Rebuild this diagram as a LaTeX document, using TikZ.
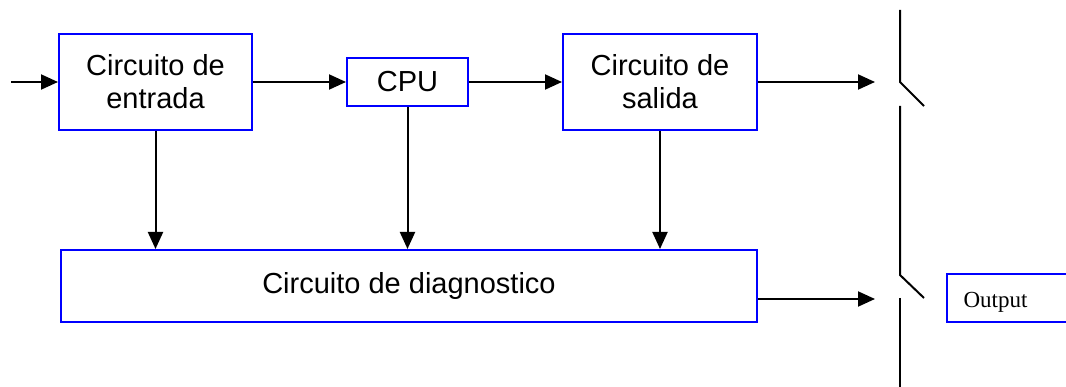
\documentclass[tikz,border=0pt]{standalone}
\usepackage{fontspec}
\setmainfont{Liberation Sans}
\newfontfamily\outfont{Liberation Serif}
\usetikzlibrary{arrows.meta}
\begin{document}
\begin{tikzpicture}[x=1pt,y=-1pt,
  box/.style={draw=blue, line width=2pt, rectangle, inner sep=0pt, align=center,
    font=\fontsize{29}{33}\selectfont},
  arr/.style={line width=2pt, -{Triangle[length=17pt,width=15pt]}},
  wire/.style={line width=2pt}]
\useasboundingbox (0,0) rectangle (1066,387);
\clip (0,0) rectangle (1066,387);
\node[box, minimum width=193pt, minimum height=96pt] (entrada) at (155.5,82) {Circuito de\\entrada};
\node[box, minimum width=121pt, minimum height=48pt] (cpu) at (407.5,82) {CPU};
\node[box, minimum width=194pt, minimum height=96pt] (salida) at (660,82) {Circuito de\\salida};
\node[box, minimum width=696pt, minimum height=72pt] (diag) at (409,286) {Circuito de diagnostico};
\node[box, minimum width=130pt, minimum height=48pt, font=\outfont\fontsize{23}{27}\selectfont] (output) at (1012,298) {\hspace*{-33pt}\raisebox{-4pt}[\height][\depth]{Output}};
\coordinate (in) at (11,82);
\coordinate (s1) at (875,82);
\coordinate (s2) at (875,299);
\coordinate (a1) at (900,10);
\coordinate (a2) at (900,82);
\coordinate (a3) at (924,106);
\coordinate (b1) at (900,106);
\coordinate (b2) at (900,275);
\coordinate (b3) at (924,298);
\coordinate (c1) at (900,298);
\coordinate (c2) at (900,390);
\draw[arr] (in) -- (entrada.west);
\draw[arr] (entrada.east) -- (cpu.west);
\draw[arr] (cpu.east) -- (salida.west);
\draw[arr] (salida.east) -- (s1);
\draw[arr] (diag.east |- s2) -- (s2);
\draw[arr] (entrada.south) -- (entrada.south |- diag.north);
\draw[arr] (cpu.south) -- (cpu.south |- diag.north);
\draw[arr] (salida.south) -- (salida.south |- diag.north);
\draw[wire] (a1) -- (a2) -- (a3);
\draw[wire] (b1) -- (b2) -- (b3);
\draw[wire] (c1) -- (c2);
\end{tikzpicture}
\end{document}
